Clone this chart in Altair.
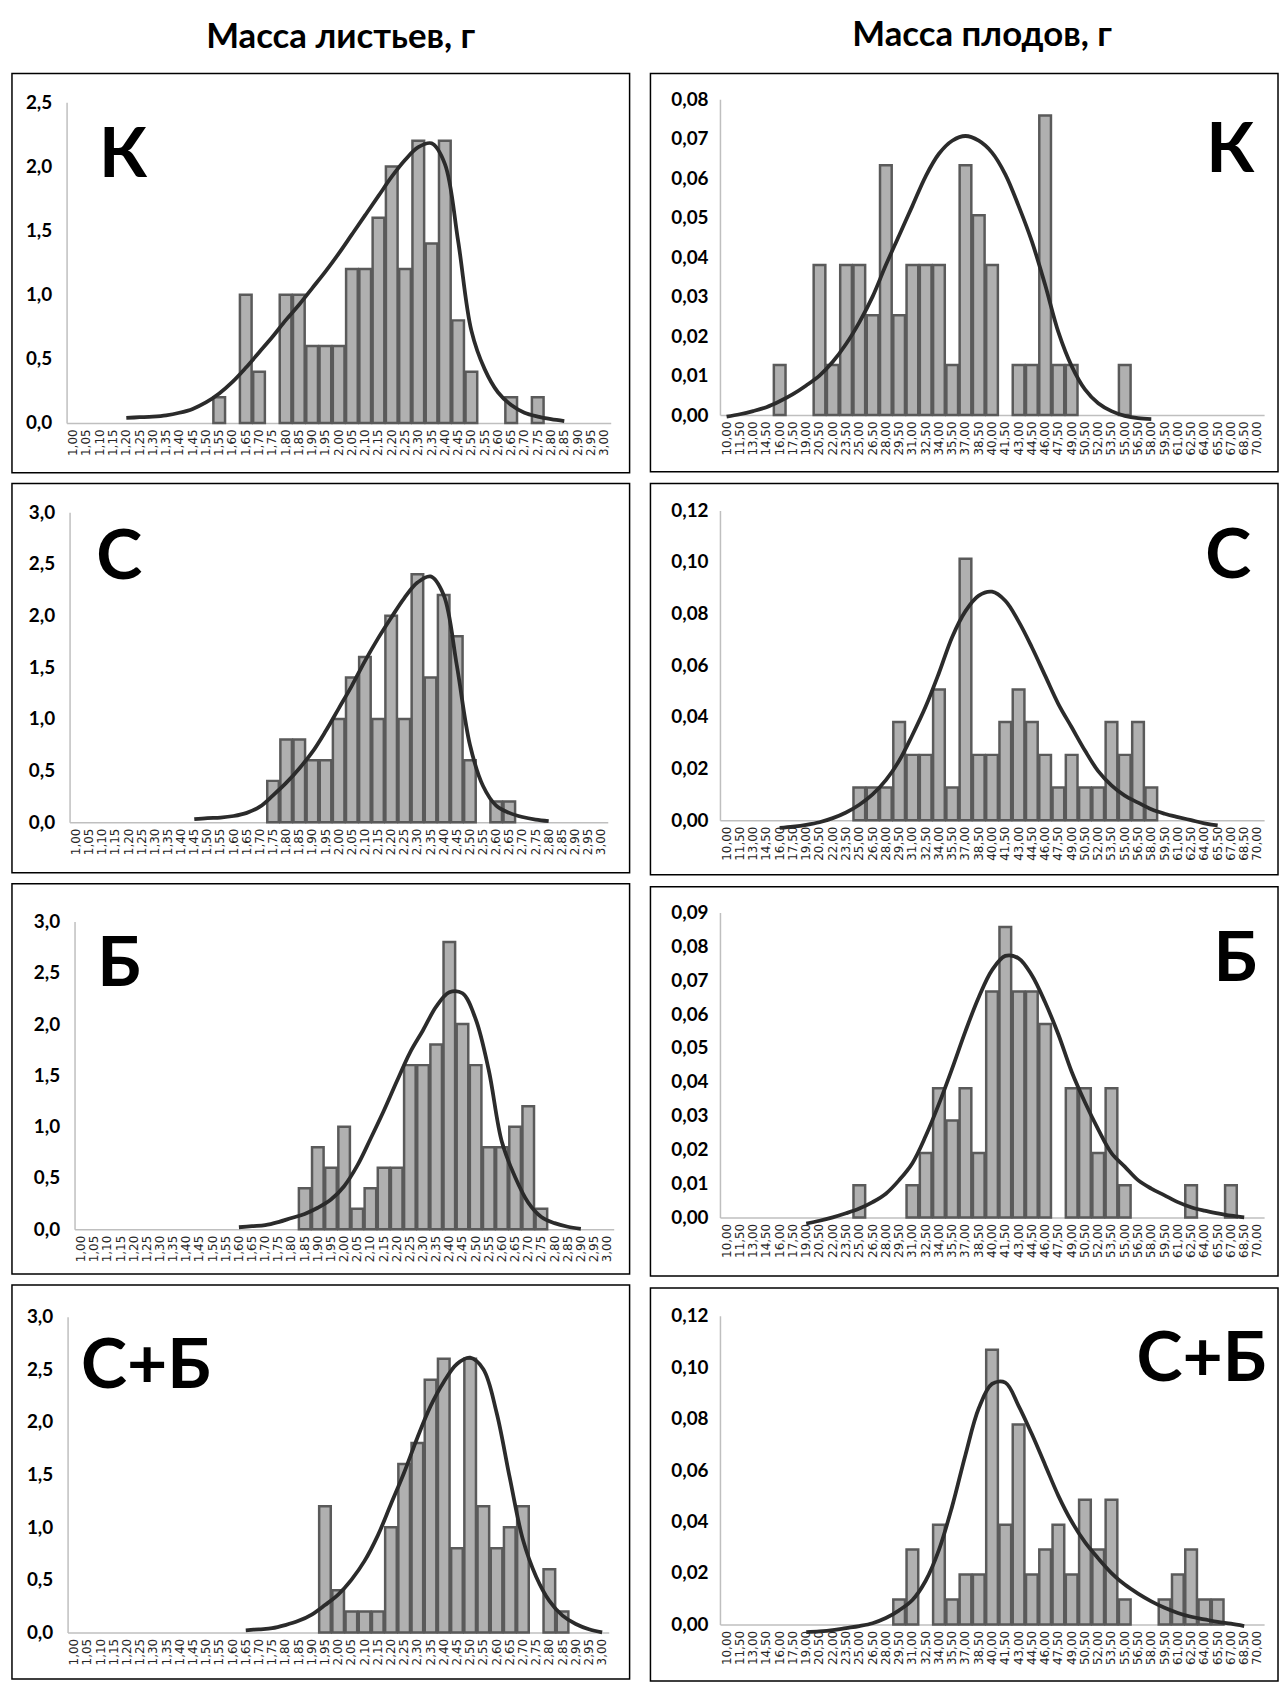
import altair as alt
import pandas as pd

# ---------------- categories (x tick labels) ----------------
LEAF_CATS = ["1,00", "1,05", "1,10", "1,15", "1,20", "1,25", "1,30", "1,35", "1,40", "1,45",
             "1,50", "1,55", "1,60", "1,65", "1,70", "1,75", "1,80", "1,85", "1,90", "1,95",
             "2,00", "2,05", "2,10", "2,15", "2,20", "2,25", "2,30", "2,35", "2,40", "2,45",
             "2,50", "2,55", "2,60", "2,65", "2,70", "2,75", "2,80", "2,85", "2,90", "2,95",
             "3,00"]
FRUIT_CATS = ["10,00", "11,50", "13,00", "14,50", "16,00", "17,50", "19,00", "20,50", "22,00", "23,50",
              "25,00", "26,50", "28,00", "29,50", "31,00", "32,50", "34,00", "35,50", "37,00", "38,50",
              "40,00", "41,50", "43,00", "44,50", "46,00", "47,50", "49,00", "50,50", "52,00", "53,50",
              "55,00", "56,50", "58,00", "59,50", "61,00", "62,50", "64,00", "65,50", "67,00", "68,50",
              "70,00"]

N = None

# ---------------- leaves: bars and fitted curves ----------------
leaf_K_bars = [0, 0, 0, 0, 0, 0, 0, 0, 0, 0,
               0, 0.2, 0, 1.0, 0.4, 0, 1.0, 1.0, 0.6, 0.6,
               0.6, 1.2, 1.2, 1.6, 2.0, 1.2, 2.2, 1.4, 2.2, 0.8,
               0.4, 0, 0, 0.2, 0, 0.2, 0, 0, 0, 0,
               0]
leaf_K_curve = [N, N, N, N, 0.04, 0.045, 0.05, 0.06, 0.08, 0.11,
                0.16, 0.23, 0.32, 0.43, 0.55, 0.67, 0.80, 0.92, 1.05, 1.18,
                1.32, 1.47, 1.62, 1.77, 1.92, 2.05, 2.15, 2.18, 2.02, 1.42,
                0.72, 0.42, 0.24, 0.14, 0.08, 0.05, 0.03, 0.015, N, N,
                N]

leaf_C_bars = [0, 0, 0, 0, 0, 0, 0, 0, 0, 0,
               0, 0, 0, 0, 0, 0.4, 0.8, 0.8, 0.6, 0.6,
               1.0, 1.4, 1.6, 1.0, 2.0, 1.0, 2.4, 1.4, 2.2, 1.8,
               0.6, 0, 0.2, 0.2, 0, 0, 0, 0, 0, 0,
               0]
leaf_C_curve = [N, N, N, N, N, N, N, N, N, 0.03,
                0.04, 0.045, 0.06, 0.09, 0.15, 0.26, 0.38, 0.52, 0.68, 0.88,
                1.10, 1.32, 1.56, 1.78, 1.98, 2.17, 2.32, 2.38, 2.2, 1.52,
                0.75, 0.35, 0.16, 0.09, 0.05, 0.025, 0.01, N, N, N,
                N]

leaf_B_bars = [0, 0, 0, 0, 0, 0, 0, 0, 0, 0,
               0, 0, 0, 0, 0, 0, 0, 0.4, 0.8, 0.6,
               1.0, 0.2, 0.4, 0.6, 0.6, 1.6, 1.6, 1.8, 2.8, 2.0,
               1.6, 0.8, 0.8, 1.0, 1.2, 0.2, 0, 0, 0, 0,
               0]
leaf_B_curve = [N, N, N, N, N, N, N, N, N, N,
                N, N, 0.02, 0.03, 0.04, 0.07, 0.11, 0.15, 0.21, 0.29,
                0.42, 0.62, 0.88, 1.15, 1.44, 1.72, 1.94, 2.17, 2.31, 2.30,
                2.05, 1.55, 0.85, 0.51, 0.26, 0.12, 0.06, 0.025, 0.005, N,
                N]

leaf_CB_bars = [0, 0, 0, 0, 0, 0, 0, 0, 0, 0,
                0, 0, 0, 0, 0, 0, 0, 0, 0, 1.2,
                0.4, 0.2, 0.2, 0.2, 1.0, 1.6, 1.8, 2.4, 2.6, 0.8,
                2.6, 1.2, 0.8, 1.0, 1.2, 0, 0.6, 0.2, 0, 0,
                0]
leaf_CB_curve = [N, N, N, N, N, N, N, N, N, N,
                 N, N, N, 0.02, 0.03, 0.04, 0.07, 0.11, 0.17, 0.26,
                 0.36, 0.5, 0.68, 0.92, 1.22, 1.52, 1.85, 2.15, 2.38, 2.55,
                 2.61, 2.5, 2.09, 1.47, 0.88, 0.53, 0.3, 0.16, 0.08, 0.03,
                 0.0]

# ---------------- fruits: bars and fitted curves ----------------
fruit_K_bars = [0, 0, 0, 0, 0.0127, 0, 0, 0.038, 0.0127, 0.038,
                0.038, 0.0253, 0.0633, 0.0253, 0.038, 0.038, 0.038, 0.0127, 0.0633, 0.0506,
                0.038, 0, 0.0127, 0.0127, 0.0759, 0.0127, 0.0127, 0, 0, 0,
                0.0127, 0, 0, 0, 0, 0, 0, 0, 0, 0,
                0]
fruit_K_curve = [-0.0004, 0.0002, 0.001, 0.002, 0.0035, 0.0053, 0.0075, 0.010, 0.0135, 0.018,
                 0.0235, 0.030, 0.038, 0.0455, 0.053, 0.0605, 0.0662, 0.0695, 0.0707, 0.0695,
                 0.0665, 0.061, 0.053, 0.044, 0.033, 0.021, 0.0124, 0.0065, 0.003, 0.001,
                 -0.0002, -0.0008, -0.001, N, N, N, N, N, N, N,
                 N]

fruit_C_bars = [0, 0, 0, 0, 0, 0, 0, 0, 0, 0,
                0.0127, 0.0127, 0.0127, 0.038, 0.0253, 0.0253, 0.0506, 0.0127, 0.1013, 0.0253,
                0.0253, 0.038, 0.0506, 0.038, 0.0253, 0.0127, 0.0253, 0.0127, 0.0127, 0.038,
                0.0253, 0.038, 0.0127, 0, 0, 0, 0, 0, 0, 0,
                0]
fruit_C_curve = [N, N, N, N, -0.003, -0.0025, -0.0018, -0.0008, 0.0008, 0.003,
                 0.006, 0.010, 0.0155, 0.023, 0.033, 0.044, 0.057, 0.071, 0.081, 0.087,
                 0.0885, 0.085, 0.077, 0.067, 0.056, 0.045, 0.036, 0.027, 0.019, 0.0135,
                 0.0095, 0.0068, 0.0042, 0.0025, 0.0012, 0.0, -0.0012, -0.002, N, N,
                 N]

fruit_B_bars = [0, 0, 0, 0, 0, 0, 0, 0, 0, 0,
                0.0095, 0, 0, 0, 0.0095, 0.019, 0.0381, 0.0286, 0.0381, 0.019,
                0.0667, 0.0857, 0.0667, 0.0667, 0.0571, 0, 0.0381, 0.0381, 0.019, 0.0381,
                0.0095, 0, 0, 0, 0, 0.0095, 0, 0, 0.0095, 0,
                0]
fruit_B_curve = [N, N, N, N, N, N, -0.0018, -0.001, 0.0, 0.0012,
                 0.0026, 0.0045, 0.007, 0.011, 0.016, 0.024, 0.0335, 0.044, 0.055, 0.065,
                 0.073, 0.0772, 0.0765, 0.0715, 0.0635, 0.054, 0.043, 0.034, 0.026, 0.019,
                 0.015, 0.011, 0.0085, 0.0065, 0.0045, 0.003, 0.002, 0.0012, 0.0005, 0.0,
                 N]

fruit_CB_bars = [0, 0, 0, 0, 0, 0, 0, 0, 0, 0,
                 0, 0, 0, 0.0097, 0.0291, 0, 0.0388, 0.0097, 0.0194, 0.0194,
                 0.1068, 0.0388, 0.0777, 0.0194, 0.0291, 0.0388, 0.0194, 0.0485, 0.0291, 0.0485,
                 0.0097, 0, 0, 0.0097, 0.0194, 0.0291, 0.0097, 0.0097, 0, 0,
                 0]
fruit_CB_curve = [N, N, N, N, N, N, -0.003, -0.0027, -0.0022, -0.0014,
                  -0.0006, 0.0005, 0.0025, 0.0055, 0.0095, 0.017, 0.029, 0.046, 0.066, 0.084,
                  0.0935, 0.094, 0.085, 0.074, 0.062, 0.05, 0.04, 0.032, 0.0257, 0.02,
                  0.0155, 0.012, 0.009, 0.0065, 0.0045, 0.003, 0.002, 0.001, 0.0003, -0.0006,
                  N]

# ---------------- y tick values ----------------
TICKS_25 = [0, 0.5, 1.0, 1.5, 2.0, 2.5]
TICKS_30 = [0, 0.5, 1.0, 1.5, 2.0, 2.5, 3.0]
TICKS_008 = [0, 0.01, 0.02, 0.03, 0.04, 0.05, 0.06, 0.07, 0.08]
TICKS_009 = [0, 0.01, 0.02, 0.03, 0.04, 0.05, 0.06, 0.07, 0.08, 0.09]
TICKS_012 = [0, 0.02, 0.04, 0.06, 0.08, 0.10, 0.12]

BAR_FILL = "#b0b0b0"
BAR_STROKE = "#5a5a5a"
CURVE = "#2b2b2b"
AXIS_GRAY = "#bfbfbf"


def panel(cats, bars, curve, letter, W, H, xr, yr, ymax, yticks, ydec, lx, ly, lpad):
    bdf = pd.DataFrame({"cat": cats, "v": bars})
    bdf = bdf[bdf["v"] > 0]
    cdf = pd.DataFrame({"cat": cats, "c": curve}).dropna()
    xs = alt.Scale(domain=cats, range=xr, paddingInner=0.12, paddingOuter=0.06)
    ys = alt.Scale(domain=[0, ymax], range=yr, nice=False, zero=False)
    xaxis = alt.Axis(title=None, labelAngle=270, labelOverlap=False, ticks=False,
                     domainColor=AXIS_GRAY, domainWidth=1.5,
                     labelFont="DejaVu Sans", labelFontSize=12, labelColor="#262626",
                     labelPadding=6, offset=-(H - yr[0]))
    yaxis = alt.Axis(title=None, values=yticks,
                     labelExpr="replace(format(datum.value, '.%df'), '.', ',')" % ydec,
                     ticks=False, grid=False, domainColor=AXIS_GRAY, domainWidth=1.5,
                     labelFont="Lato", labelFontWeight="bold", labelFontSize=19,
                     labelColor="black", labelPadding=lpad, offset=-xr[0])
    b = alt.Chart(bdf).mark_bar(fill=BAR_FILL, stroke=BAR_STROKE, strokeWidth=2.5).encode(
        x=alt.X("cat:N", scale=xs, axis=xaxis),
        y=alt.Y("v:Q", scale=ys, axis=yaxis),
    )
    ln = alt.Chart(cdf).mark_line(color=CURVE, strokeWidth=3.8, interpolate="catmull-rom").encode(
        x=alt.X("cat:N"),
        y=alt.Y("c:Q"),
    )
    tx = alt.Chart(pd.DataFrame({"t": [letter]})).mark_text(
        font="Lato", fontWeight="bold", fontSize=70, baseline="alphabetic", align="center",
        color="black"
    ).encode(text="t:N", x=alt.value(lx), y=alt.value(ly))
    return alt.layer(b, ln, tx).properties(width=W, height=H)


LW, RW = 622, 632

left_panels = [
    panel(LEAF_CATS, leaf_K_bars, leaf_K_curve, "К", LW, 402, [55, 603], [352, 29], 2.5, TICKS_25, 1, 112, 104, 15),
    panel(LEAF_CATS, leaf_C_bars, leaf_C_curve, "С", LW, 392, [58, 600], [341, 29], 3.0, TICKS_30, 1, 108, 96, 15),
    panel(LEAF_CATS, leaf_B_bars, leaf_B_curve, "Б", LW, 393, [63, 606], [348, 38], 3.0, TICKS_30, 1, 108, 103, 15),
    panel(LEAF_CATS, leaf_CB_bars, leaf_CB_curve, "С+Б", LW, 397, [56, 601], [350, 32], 3.0, TICKS_30, 1, 135, 104, 15),
]
right_panels = [
    panel(FRUIT_CATS, fruit_K_bars, fruit_K_curve, "К", RW, 401, [70, 618], [344, 26], 0.08, TICKS_008, 2, 584, 99, 12),
    panel(FRUIT_CATS, fruit_C_bars, fruit_C_curve, "С", RW, 394, [70, 618], [339, 27], 0.12, TICKS_012, 2, 582, 95, 12),
    panel(FRUIT_CATS, fruit_B_bars, fruit_B_curve, "Б", RW, 392, [70, 618], [333, 26], 0.09, TICKS_009, 2, 589, 95, 12),
    panel(FRUIT_CATS, fruit_CB_bars, fruit_CB_curve, "С+Б", RW, 396, [70, 618], [339, 28], 0.12, TICKS_012, 2, 555, 94, 12),
]

left = alt.vconcat(*left_panels, spacing=9).properties(
    title=alt.Title("Масса листьев, г", font="Lato", fontSize=35, fontWeight="bold",
                    anchor="middle", dx=20, offset=18, color="black"))
right = alt.vconcat(*right_panels, spacing=10).properties(
    title=alt.Title("Масса плодов, г", font="Lato", fontSize=35, fontWeight="bold",
                    anchor="middle", dx=18, offset=20, color="black"))

chart = alt.hconcat(left, right, spacing=19).properties(
    padding={"left": 3, "top": 4, "right": 0, "bottom": 0},
    background="white",
).configure_view(stroke="black", strokeWidth=1.5)

chart.save("out.html", embed_options={"renderer": "svg", "actions": False})
